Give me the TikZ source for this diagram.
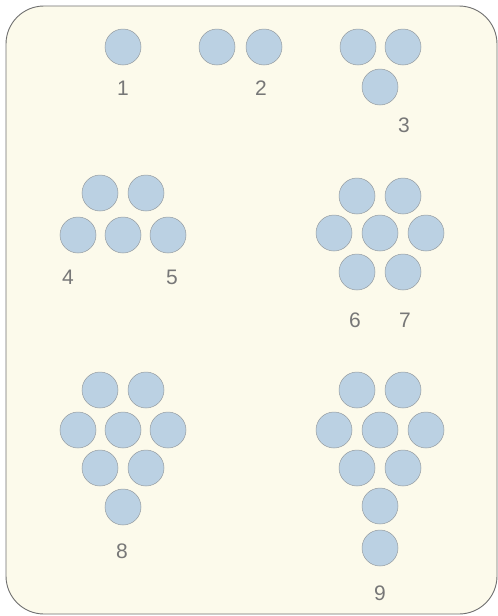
\documentclass[tikz,border=0pt]{standalone}
\usepackage{fontspec}
\setmainfont{Liberation Sans}
\usetikzlibrary{positioning}
\definecolor{cardfill}{HTML}{FCFAEB}
\definecolor{discfill}{HTML}{BBD1E3}
\definecolor{discline}{HTML}{959CA1}
\definecolor{numgray}{HTML}{777777}
\definecolor{framegray}{HTML}{707070}

\begin{document}
\begin{tikzpicture}[x=1pt, y=-1pt,
        disc/.style={circle, draw=discline, line width=0.5pt, fill=discfill,
                     minimum size=36pt, inner sep=0pt},
        num/.style={font=\fontsize{21}{21}\selectfont, text=numgray, inner sep=0pt}
    ]
        \useasboundingbox (0,0) rectangle (498,616);
        \fill[white] (0,0) rectangle (498,616);
        \draw[framegray, line width=0.9pt, fill=cardfill, rounded corners=38pt]
            (6,6) rectangle (497,614);
        % group 1
        \node[disc] (p1) at (123,47) {};
        % group 2
        \node[disc] (q1) at (217,47) {};
        \node[disc] (q2) at (264,47) {};
        % group 3
        \node[disc] (r1) at (358,47) {};
        \node[disc] (r2) at (403,47) {};
        \node[disc] (r3) at (380,87) {};
        % group 4 / 5
        \node[disc] (s1) at (100,193) {};
        \node[disc] (s2) at (146,193) {};
        \node[disc] (s3) at (78,235) {};
        \node[disc] (s4) at (123,235) {};
        \node[disc] (s5) at (168,235) {};
        % group 6 / 7
        \node[disc] (t1) at (357,196) {};
        \node[disc] (t2) at (403,196) {};
        \node[disc] (t3) at (334,233) {};
        \node[disc] (t4) at (380,233) {};
        \node[disc] (t5) at (426,233) {};
        \node[disc] (t6) at (357,272) {};
        \node[disc] (t7) at (403,272) {};
        % group 8
        \node[disc] (u1) at (100,390) {};
        \node[disc] (u2) at (146,390) {};
        \node[disc] (u3) at (78,430) {};
        \node[disc] (u4) at (123,430) {};
        \node[disc] (u5) at (168,430) {};
        \node[disc] (u6) at (100,468) {};
        \node[disc] (u7) at (146,468) {};
        \node[disc] (u8) at (123,507) {};
        % group 9
        \node[disc] (v1) at (357,390) {};
        \node[disc] (v2) at (403,390) {};
        \node[disc] (v3) at (334,430) {};
        \node[disc] (v4) at (380,430) {};
        \node[disc] (v5) at (426,430) {};
        \node[disc] (v6) at (357,468) {};
        \node[disc] (v7) at (403,468) {};
        \node[disc] (v8) at (380,506) {};
        \node[disc] (v9) at (380,548) {};
        % numbers
        \node[num] (n1) at (123,88)  {1};
        \node[num] (n2) at (261,88)  {2};
        \node[num] (n3) at (404,125) {3};
        \node[num] (n4) at (68,277)  {4};
        \node[num] (n5) at (172,277) {5};
        \node[num] (n6) at (355,320) {6};
        \node[num] (n7) at (405,320) {7};
        \node[num] (n8) at (122,551) {8};
        \node[num] (n9) at (380,593) {9};
    \end{tikzpicture}
\end{document}
